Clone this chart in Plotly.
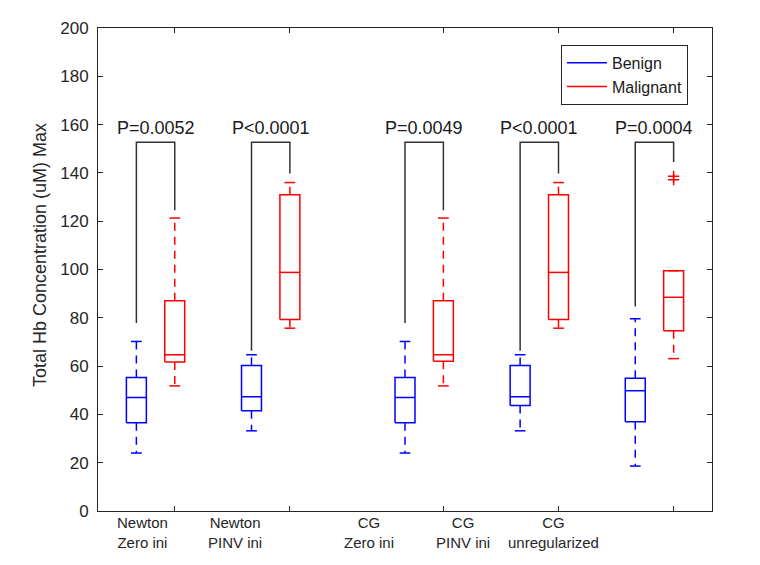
import plotly.graph_objects as go

# groups and labels
group_labels = ["Newton<br>Zero ini", "Newton<br>PINV ini", "CG<br>Zero ini",
                "CG<br>PINV ini", "CG<br>unregularized"]
p_labels = ["P=0.0052", "P<0.0001", "P=0.0049", "P<0.0001", "P=0.0004"]

# box statistics (uM)
benign_lower = [24.0, 33.2, 24.0, 33.2, 18.6]
benign_q1 = [36.5, 41.5, 36.5, 43.7, 37.0]
benign_median = [47.0, 47.3, 47.0, 47.3, 49.8]
benign_q3 = [55.3, 60.3, 55.3, 60.3, 55.0]
benign_upper = [70.2, 64.7, 70.2, 64.7, 79.6]

malig_lower = [51.8, 75.7, 51.8, 75.7, 63.1]
malig_q1 = [61.7, 79.3, 62.0, 79.3, 74.6]
malig_median = [64.7, 98.8, 64.7, 98.8, 88.5]
malig_q3 = [87.1, 131.0, 87.1, 131.0, 99.5]
malig_upper = [121.3, 136.0, 121.3, 136.0, 99.5]

outlier_group = [4, 4]
outlier_values = [138.6, 137.2]

# significance brackets
bracket_top = 152.7
bracket_left_end = [77.8, 66.4, 77.8, 66.4, 84.7]
bracket_right_end = [124.5, 139.7, 124.5, 139.7, 144.5]

# layout positions
benign_pos = [1, 4, 8, 11, 14]
malig_pos = [2, 5, 9, 12, 15]
tick_pos = malig_pos
label_pos = [1.15, 3.57, 7.06, 9.51, 11.86]
BOX_HW = 0.26
CAP_HW = 0.14
FONT = "Liberation Sans, Arial, sans-serif"
AXIS_COLOR = "#262626"


def box_traces(pos, lo, q1, med, q3, hi, color, name):
    bx, by, mx, my, wx, wy, cx, cy = [], [], [], [], [], [], [], []
    for p, a, b, m, c, d in zip(pos, lo, q1, med, q3, hi):
        bx += [p - BOX_HW, p + BOX_HW, p + BOX_HW, p - BOX_HW, p - BOX_HW, None]
        by += [b, b, c, c, b, None]
        mx += [p - BOX_HW, p + BOX_HW, None]
        my += [m, m, None]
        wx += [p, p, None, p, p, None]
        wy += [c, d, None, b, a, None]
        cx += [p - CAP_HW, p + CAP_HW, None, p - CAP_HW, p + CAP_HW, None]
        cy += [d, d, None, a, a, None]
    common = dict(mode="lines", hoverinfo="skip")
    return [
        go.Scatter(x=bx, y=by, name=name, line=dict(color=color, width=1.5),
                   showlegend=True, **common),
        go.Scatter(x=mx, y=my, line=dict(color=color, width=1.5),
                   showlegend=False, **common),
        go.Scatter(x=wx, y=wy, line=dict(color=color, width=1.5, dash="8px,6px"),
                   showlegend=False, **common),
        go.Scatter(x=cx, y=cy, line=dict(color=color, width=1.5),
                   showlegend=False, **common),
    ]


fig = go.Figure()

# brackets
brx, bry = [], []
for b, m, le, re in zip(benign_pos, malig_pos, bracket_left_end, bracket_right_end):
    brx += [b, b, m, m, None]
    bry += [le, bracket_top, bracket_top, re, None]
fig.add_trace(go.Scatter(x=brx, y=bry, mode="lines", showlegend=False,
                         hoverinfo="skip", line=dict(color="#333333", width=1.5)))

for t in box_traces(benign_pos, benign_lower, benign_q1, benign_median,
                    benign_q3, benign_upper, "blue", "Benign"):
    fig.add_trace(t)
for t in box_traces(malig_pos, malig_lower, malig_q1, malig_median,
                    malig_q3, malig_upper, "red", "Malignant"):
    fig.add_trace(t)

# outliers
fig.add_trace(go.Scatter(
    x=[malig_pos[g] for g in outlier_group], y=outlier_values, mode="markers",
    showlegend=False, marker=dict(symbol="cross-thin", size=8,
                                  line=dict(color="red", width=1.5))
))

# p-values
for b, m, txt in zip(benign_pos, malig_pos, p_labels):
    fig.add_annotation(x=(b + m) / 2, y=bracket_top, yanchor="bottom", yshift=2,
                       text=txt, showarrow=False,
                       font=dict(family=FONT, size=18, color="#1a1a1a"))

# category labels
for xp, txt in zip(label_pos, group_labels):
    fig.add_annotation(x=xp, y=0, xref="x", yref="paper", yanchor="top",
                       yshift=-1, text=txt, showarrow=False,
                       font=dict(family=FONT, size=15, color=AXIS_COLOR))

# y-axis title (sits a bit above the plot centre in the original)
fig.add_annotation(x=-0.0945, xref="paper", y=106, yref="y", xanchor="center",
                   yanchor="middle", textangle=-90, showarrow=False,
                   text="Total Hb Concentration (uM) Max",
                   font=dict(family=FONT, size=18, color=AXIS_COLOR))

axis_common = dict(showline=True, linecolor=AXIS_COLOR, linewidth=1, mirror="ticks",
                   ticks="inside", ticklen=5, tickcolor=AXIS_COLOR, showgrid=False,
                   zeroline=False)

# page body has an 8px margin, so the figure is slightly smaller than the window
fig.update_layout(
    width=752, height=557,
    margin=dict(l=90, r=48, t=20, b=54),
    paper_bgcolor="white", plot_bgcolor="white",
    font=dict(family=FONT, size=17, color=AXIS_COLOR),
    xaxis=dict(range=[0, 16], tickvals=tick_pos, ticktext=[""] * len(tick_pos),
               **axis_common),
    yaxis=dict(range=[0, 200], dtick=20, ticklabelstandoff=5, **axis_common),
    legend=dict(x=0.754, y=0.965, xanchor="left", yanchor="top",
                bordercolor=AXIS_COLOR, borderwidth=1, bgcolor="white",
                font=dict(family=FONT, size=16, color="#1a1a1a"),
                itemwidth=40, tracegroupgap=0),
    showlegend=True,
)

fig.write_html("out.html")
